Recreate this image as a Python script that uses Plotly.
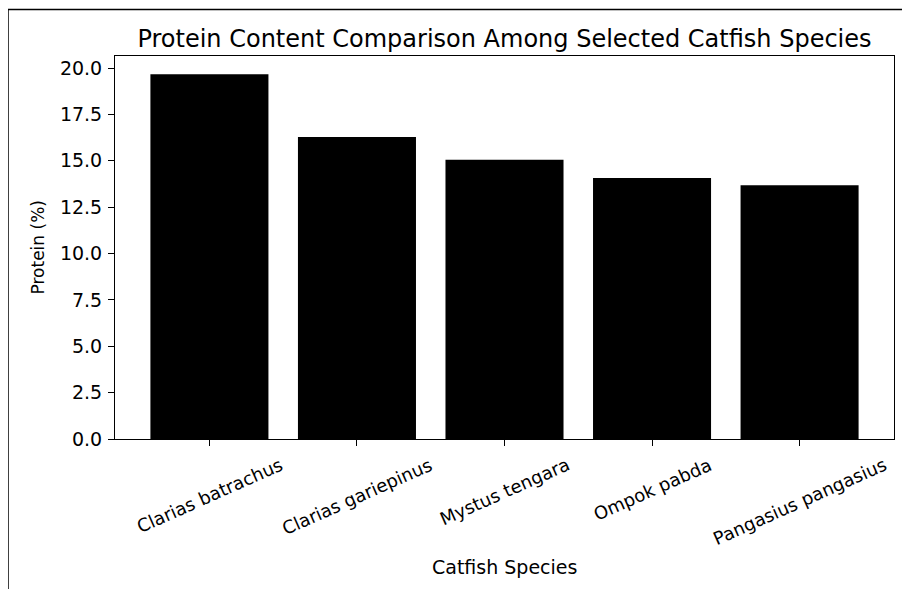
import plotly.graph_objects as go

species = ["Clarias batrachus", "Clarias gariepinus", "Mystus tengara", "Ompok pabda", "Pangasius pangasius"]
protein = [19.66, 16.28, 15.06, 14.07, 13.68]
y_ticks = [0.0, 2.5, 5.0, 7.5, 10.0, 12.5, 15.0, 17.5, 20.0]

# page body has an 8px margin; work in screen pixels and subtract it
OFF = 8
W, H = 910 - OFF, 589 - OFF
L, R, T, B = 115 - OFF, 894 - OFF, 55.5 - OFF, 439 - OFF
pw, ph = R - L, B - T

def px_x(x):
    return (x - OFF - L) / pw

def px_y(y):
    return (B - (y - OFF)) / ph

FONT = "DejaVu Sans"

fig = go.Figure()
fig.add_trace(go.Bar(x=species, y=protein, marker=dict(color="black", line=dict(width=0)), width=0.8))

annotations = []
for s in species:
    annotations.append(dict(x=s, xref="x", y=px_y(451), yref="paper", text=s, showarrow=False,
                            textangle=-24, xanchor="center", yanchor="top",
                            font=dict(family=FONT, size=18, color="black")))
annotations.append(dict(x=0.5, xref="paper", y=px_y(567), yref="paper", text="Catfish Species",
                        showarrow=False, xanchor="center", yanchor="middle",
                        font=dict(family=FONT, size=19, color="black")))
annotations.append(dict(x=px_x(37), xref="paper", y=0.5, yref="paper", text="Protein (%)",
                        showarrow=False, textangle=-90, xanchor="center", yanchor="middle",
                        font=dict(family=FONT, size=17, color="black")))

shapes = [
    dict(type="line", xref="paper", yref="paper", x0=px_x(8), x1=px_x(912), y0=px_y(9), y1=px_y(9),
         line=dict(color="black", width=1.5)),
    dict(type="line", xref="paper", yref="paper", x0=px_x(8), x1=px_x(8), y0=px_y(9), y1=px_y(592),
         line=dict(color="black", width=1.5)),
]

fig.update_layout(
    width=W, height=H,
    margin=dict(l=L, r=W - R, t=T, b=H - B, pad=0),
    plot_bgcolor="white", paper_bgcolor="white",
    showlegend=False,
    title=dict(text="Protein Content Comparison Among Selected Catfish Species",
               x=0.5, xref="paper", xanchor="center", y=1 - (39 - OFF) / H, yref="container", yanchor="middle",
               font=dict(family=FONT, size=24, color="black")),
    annotations=annotations,
    shapes=shapes,
    bargap=0.2,
)
fig.update_xaxes(type="category", range=[-0.64, 4.64], showline=True, mirror=True, linecolor="black", linewidth=1,
                 ticks="outside", ticklen=6, tickcolor="black", tickwidth=1, showticklabels=False,
                 showgrid=False, zeroline=False)
fig.update_yaxes(range=[0, 20.65], tickvals=y_ticks, ticktext=[f"{v:.1f}" for v in y_ticks],
                 showline=True, mirror=True, linecolor="black", linewidth=1,
                 ticks="outside", ticklen=6, tickcolor="black", tickwidth=1, ticklabelstandoff=2,
                 tickfont=dict(family=FONT, size=19, color="black"), showgrid=False, zeroline=False)

fig.write_html("out.html")
